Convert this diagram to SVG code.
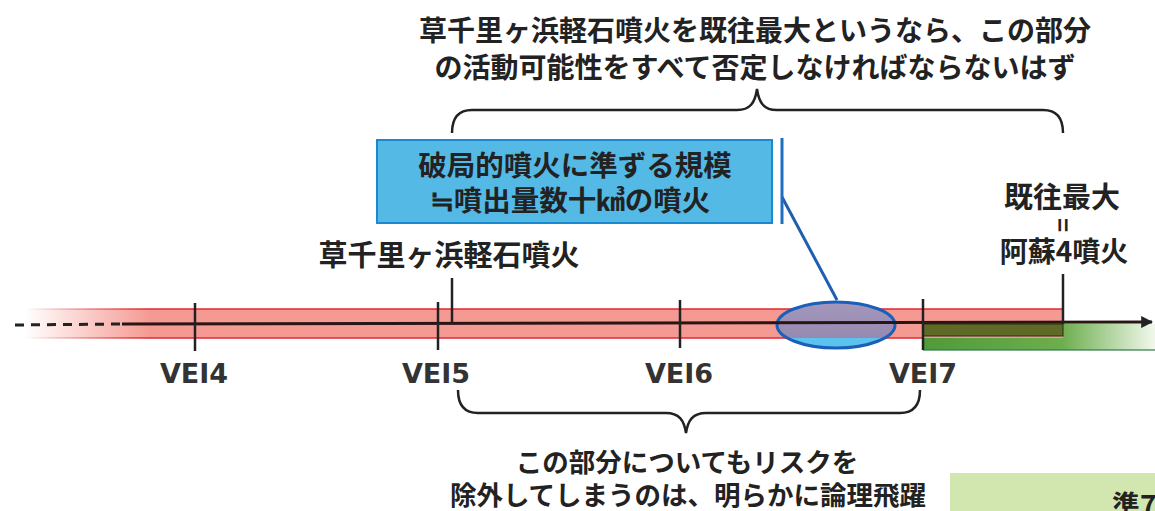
<svg xmlns="http://www.w3.org/2000/svg" width="1155" height="511" viewBox="0 0 1155 511">
<defs>
<style>
.jp{font-family:"Noto Sans CJK JP","Noto Sans CJK SC",sans-serif;font-weight:700;fill:#222;}
.vei{font-family:"DejaVu Sans",Verdana,sans-serif;font-weight:700;font-size:27px;fill:#333;text-anchor:middle;}
.tick{stroke:#222;stroke-width:2.5;fill:none;}
.brace{stroke:#222;stroke-width:2.5;fill:none;}
</style>
<linearGradient id="redFill" gradientUnits="userSpaceOnUse" x1="25" y1="0" x2="150" y2="0">
<stop offset="0" stop-color="#f59a92" stop-opacity="0"/>
<stop offset="1" stop-color="#f59a92" stop-opacity="1"/>
</linearGradient>
<linearGradient id="redEdge" gradientUnits="userSpaceOnUse" x1="25" y1="0" x2="150" y2="0">
<stop offset="0" stop-color="#e3262c" stop-opacity="0"/>
<stop offset="1" stop-color="#e3262c" stop-opacity="1"/>
</linearGradient>
<linearGradient id="greenFill" gradientUnits="userSpaceOnUse" x1="923" y1="0" x2="1155" y2="0">
<stop offset="0" stop-color="#4f9a3a"/>
<stop offset="0.6" stop-color="#6dae4e"/>
<stop offset="1" stop-color="#f2f8ec"/>
</linearGradient>
<linearGradient id="ellFill" x1="0" y1="0" x2="0" y2="1">
<stop offset="0" stop-color="#a497bb"/>
<stop offset="0.78" stop-color="#968ab2"/>
<stop offset="0.78" stop-color="#5cc3ee"/>
<stop offset="1" stop-color="#5cc3ee"/>
</linearGradient>
<marker id="arr" viewBox="0 0 10 10" refX="9" refY="5" markerWidth="4" markerHeight="4" orient="auto" markerUnits="strokeWidth">
<path d="M0,0 L10,5 L0,10 z" fill="#222"/>
</marker>
</defs>
<rect width="1155" height="511" fill="#ffffff"/>

<g id="bands">
<rect x="923" y="324" width="232" height="26" fill="url(#greenFill)"/>
<line x1="923" y1="350" x2="1155" y2="350" stroke="#2f7a48" stroke-width="1.5" opacity="0.8"/>
<rect x="20" y="309" width="1043" height="29" fill="url(#redFill)"/>
<line x1="20" y1="309" x2="1063" y2="309" stroke="url(#redEdge)" stroke-width="1.5"/>
<line x1="20" y1="338" x2="923" y2="338" stroke="url(#redEdge)" stroke-width="1.5"/>
<rect x="923" y="324" width="140" height="12" fill="#5e6a26" stroke="#2a2a10" stroke-width="1"/>
</g>

<g id="ellipse-node">
<ellipse cx="836" cy="325" rx="59" ry="23" fill="url(#ellFill)" stroke="#1a5fb8" stroke-width="3"/>
</g>

<g id="connectors">
<line x1="15" y1="325" x2="122" y2="324" stroke="#222" stroke-width="3" stroke-dasharray="9 7"/>
<line x1="122" y1="324" x2="1152" y2="322" stroke="#2a1515" stroke-width="3" marker-end="url(#arr)"/>
<line class="tick" x1="195" y1="303" x2="195" y2="351"/>
<line class="tick" x1="438" y1="302" x2="438" y2="350"/>
<line class="tick" x1="452" y1="278" x2="452" y2="324"/>
<line class="tick" x1="680" y1="300" x2="680" y2="348"/>
<line class="tick" x1="923" y1="299" x2="923" y2="350"/>
<line class="tick" x1="1063" y1="274" x2="1063" y2="324"/>
<line x1="782" y1="197" x2="837" y2="300" stroke="#1f5fb0" stroke-width="3"/>
<path class="brace" d="M452,133 C452,118 458,110 472,110 L737,110 C750,110 755,103 757,89 C759,103 764,110 777,110 L1043,110 C1057,110 1063,118 1063,133"/>
<path class="brace" d="M458,390 C458,405 464,413 478,413 L666,413 C679,413 684,420 686,433 C688,420 693,413 706,413 L900,413 C914,413 920,405 920,390"/>
</g>

<g id="top-note">
<text class="jp" x="755" y="41" font-size="28" text-anchor="middle">草千里ヶ浜軽石噴火を既往最大というなら、この部分</text>
<text class="jp" x="755" y="78" font-size="28" text-anchor="middle">の活動可能性をすべて否定しなければならないはず</text>
</g>

<g id="blue-box">
<rect x="377" y="140" width="395" height="83" fill="#55b9e6" stroke="#1a8ad0" stroke-width="2"/>
<line x1="782" y1="138" x2="782" y2="224" stroke="#1f6fc0" stroke-width="3"/>
<text class="jp" x="575" y="176" font-size="28.5" text-anchor="middle">破局的噴火に準ずる規模</text>
<text class="jp" x="570" y="211" font-size="28.5" text-anchor="middle">≒噴出量数十㎦の噴火</text>
</g>

<g id="kusasenri-label">
<text class="jp" x="449" y="266" font-size="29" text-anchor="middle">草千里ヶ浜軽石噴火</text>
</g>

<g id="aso4-label">
<text class="jp" x="1062" y="208" font-size="29" text-anchor="middle">既往最大</text>
<text class="jp" x="1064" y="225" font-size="24" text-anchor="middle" dominant-baseline="central" transform="rotate(90 1064 225)">=</text>
<text class="jp" x="1064" y="262" font-size="28" text-anchor="middle">阿蘇4噴火</text>
</g>

<g id="vei-labels">
<text class="vei" x="194" y="383">VEI4</text>
<text class="vei" x="436" y="383">VEI5</text>
<text class="vei" x="679" y="383">VEI6</text>
<text class="vei" x="923" y="383">VEI7</text>
</g>

<g id="bottom-note">
<text class="jp" x="687" y="472" font-size="26.5" text-anchor="middle">この部分についてもリスクを</text>
<text class="jp" x="688" y="505" font-size="26.5" text-anchor="middle">除外してしまうのは、明らかに論理飛躍</text>
</g>

<g id="green-box">
<rect x="950" y="473" width="210" height="40" fill="#d2e6b0"/>
<text class="jp" x="1112" y="516" font-size="28">準7</text>
</g>
</svg>
